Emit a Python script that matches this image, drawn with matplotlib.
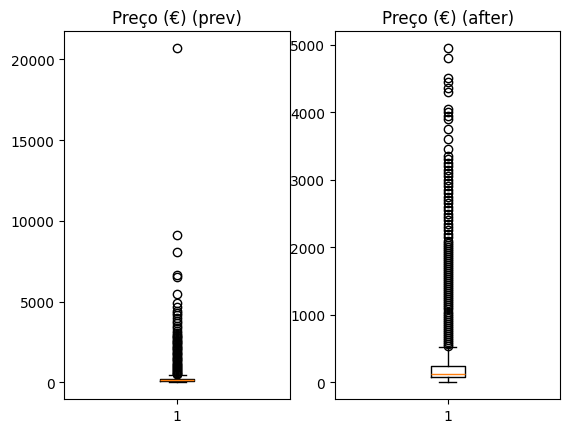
import matplotlib
matplotlib.use("Agg")
import matplotlib.pyplot as plt

titles = ["Preço (€) (prev)", "Preço (€) (after)"]

prev_stats = dict(med=130, q1=70, q3=230, whislo=0, whishi=480)
prev_fliers = [500, 550, 600, 650, 700, 760, 820, 880, 950, 1000, 1080, 1150, 1230, 1300,
               1380, 1450, 1520, 1600, 1680, 1750, 1830, 1900, 1980, 2050, 2130, 2200,
               2280, 2350, 2430, 2500, 2580, 2650, 2730, 2800, 2880, 2950, 3050, 3200,
               3350, 3500, 3650, 3800, 4000, 4150, 4300, 4450, 4700, 4900, 5500, 6500,
               6650, 8050, 9100, 20700]

after_stats = dict(med=130, q1=80, q3=250, whislo=0, whishi=520)
after_fliers = [540, 570, 600, 630, 660, 690, 720, 750, 780, 810, 840, 870, 900, 930, 960,
                990, 1020, 1050, 1080, 1110, 1140, 1170, 1200, 1230, 1260, 1290, 1320, 1350,
                1380, 1410, 1440, 1470, 1500, 1530, 1560, 1590, 1620, 1650, 1680, 1710, 1740,
                1770, 1800, 1830, 1860, 1890, 1920, 1950, 1980, 2010, 2040, 2070, 2100, 2150,
                2200, 2250, 2300, 2350, 2400, 2450, 2500, 2550, 2600, 2650, 2700, 2750, 2800,
                2850, 2900, 2950, 3000, 3050, 3100, 3150, 3200, 3250, 3300, 3350, 3450, 3600,
                3750, 3900, 3950, 4000, 4050, 4300, 4350, 4450, 4500, 4800, 4950]

fig, axes = plt.subplots(1, 2, figsize=(5.69, 4.35), dpi=100)
fig.subplots_adjust(left=0.113, right=0.985, top=0.926, bottom=0.08, wspace=0.2)
for ax, title, st, fl in zip(axes, titles, [prev_stats, after_stats], [prev_fliers, after_fliers]):
    s = dict(st)
    s["fliers"] = fl
    ax.bxp([s])
    ax.set_xticks([1])
    ax.set_xticklabels(["1"])
    ax.set_title(title)
fig.savefig("out.png")
